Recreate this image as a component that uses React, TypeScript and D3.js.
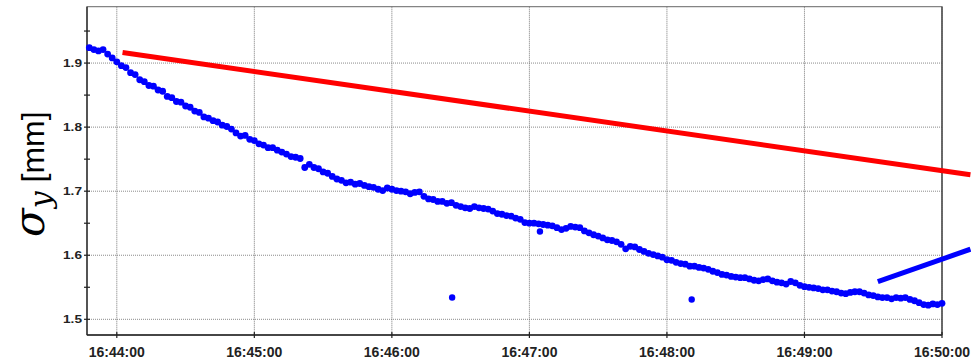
import React from "react";
import * as d3 from "d3";

const W = 971;
const H = 363;

// Beam size samples, one every two seconds starting at sampleStart.
const sampleStart = "16:43:48.000";
const sampleStepSeconds = 2;
const sigmaY = [
  1.924, 1.921, 1.919, 1.921, 1.914, 1.908,
  1.902, 1.896, 1.893, 1.885, 1.882, 1.874, 1.871, 1.865, 1.864, 1.858,
  1.856, 1.848, 1.846, 1.84, 1.839, 1.833, 1.831, 1.825, 1.823, 1.816,
  1.814, 1.81, 1.808, 1.803, 1.801, 1.797, 1.791, 1.786, 1.787, 1.781,
  1.779, 1.774, 1.772, 1.768, 1.768, 1.764, 1.761, 1.758, 1.754, 1.753,
  1.751, 1.737, 1.742, 1.737, 1.735, 1.73, 1.728, 1.723, 1.719, 1.717,
  1.713, 1.714, 1.711, 1.712, 1.709, 1.707, 1.706, 1.703, 1.701, 1.705,
  1.703, 1.701, 1.7, 1.699, 1.696, 1.698, 1.699, 1.692, 1.688, 1.687,
  1.684, 1.684, 1.681, 1.682, 1.678, 1.676, 1.674, 1.673, 1.676, 1.674,
  1.673, 1.672, 1.669, 1.665, 1.664, 1.662, 1.661, 1.658, 1.656, 1.651,
  1.65, 1.65, 1.649, 1.648, 1.647, 1.646, 1.643, 1.64, 1.642, 1.645,
  1.644, 1.643, 1.638, 1.635, 1.632, 1.63, 1.627, 1.624, 1.623, 1.621,
  1.617, 1.61, 1.614, 1.613, 1.609, 1.606, 1.603, 1.601, 1.599, 1.597,
  1.593, 1.592, 1.589, 1.587, 1.586, 1.583, 1.583, 1.581, 1.58, 1.578,
  1.575, 1.573, 1.57, 1.569, 1.567, 1.566, 1.565, 1.565, 1.563, 1.561,
  1.56, 1.562, 1.563, 1.56, 1.558, 1.557, 1.555, 1.559, 1.557, 1.553,
  1.551, 1.55, 1.549, 1.548, 1.546, 1.546, 1.544, 1.543, 1.541, 1.54,
  1.542, 1.543, 1.543, 1.541, 1.538, 1.537, 1.535, 1.534, 1.534, 1.532,
  1.534, 1.533, 1.534, 1.531, 1.529, 1.526, 1.523, 1.522, 1.524, 1.523,
  1.525,
];

// Isolated readings away from the main trend.
const strayTimes = ["16:46:26.300", "16:47:04.600", "16:48:10.800"];
const strayValues = [1.534, 1.637, 1.531];

// Hand-drawn guide lines (time, value) end points.
const redGuideTimes = ["16:44:02.500", "16:50:12.400"];
const redGuideValues = [1.9165, 1.7257];
const blueGuideTimes = ["16:49:32.000", "16:50:12.400"];
const blueGuideValues = [1.5588, 1.6094];

const xDomain = ["16:43:47.000", "16:50:00.000"];
const yDomain = [1.4755, 1.988];
const xTickTimes = ["16:44:00", "16:45:00", "16:46:00", "16:47:00", "16:48:00", "16:49:00", "16:50:00"];
const yTicks = [1.5, 1.6, 1.7, 1.8, 1.9];
const yMinorTicks = [1.55, 1.65, 1.75, 1.85, 1.95];

const parseMs = d3.utcParse("%H:%M:%S.%L");
const parseS = d3.utcParse("%H:%M:%S");
const fmt = d3.utcFormat("%H:%M:%S");

const plot = { left: 87, right: 942, top: 6.7, bottom: 335 };

export default function App() {
  const x = d3
    .scaleUtc()
    .domain(xDomain.map((s) => parseMs(s) as Date))
    .range([plot.left, plot.right]);
  const y = d3.scaleLinear().domain(yDomain).range([plot.bottom, plot.top]);

  const t0 = parseMs(sampleStart) as Date;
  const samples = sigmaY.map((v, i) => ({
    t: d3.utcSecond.offset(t0, i * sampleStepSeconds),
    v,
  }));
  const strays = strayTimes.map((s, i) => ({ t: parseMs(s) as Date, v: strayValues[i] }));
  const xTicks = xTickTimes.map((s) => parseS(s) as Date);

  const guide = d3
    .line<[string, number]>()
    .x((d) => x(parseMs(d[0]) as Date))
    .y((d) => y(d[1]));
  const redPts = redGuideTimes.map((s, i) => [s, redGuideValues[i]] as [string, number]);
  const bluePts = blueGuideTimes.map((s, i) => [s, blueGuideValues[i]] as [string, number]);

  const tickFont = "'Liberation Sans', Arial, sans-serif";

  return (
    <svg
      width={W}
      height={H}
      style={{ position: "absolute", left: 0, top: 0, background: "#fff" }}
    >
      <rect x={0} y={0} width={W} height={H} fill="#fff" />

      {/* grid */}
      {yTicks.map((v) => (
        <line
          key={"gy" + v}
          x1={plot.left}
          x2={plot.right}
          y1={y(v)}
          y2={y(v)}
          stroke="#8a8a8a"
          strokeWidth={1}
          strokeDasharray="1,1"
        />
      ))}
      {xTicks.map((t, i) => (
        <line
          key={"gx" + i}
          x1={x(t)}
          x2={x(t)}
          y1={plot.top}
          y2={plot.bottom}
          stroke="#777"
          strokeWidth={1}
          strokeDasharray="1,1"
        />
      ))}

      {/* frame */}
      <rect
        x={plot.left}
        y={plot.top}
        width={plot.right - plot.left}
        height={plot.bottom - plot.top}
        fill="none"
        stroke="#666"
        strokeWidth={1}
      />
      <line x1={plot.left} x2={plot.left} y1={plot.top} y2={plot.bottom} stroke="#222" strokeWidth={1.3} />
      <line x1={plot.left} x2={plot.right} y1={plot.bottom} y2={plot.bottom} stroke="#222" strokeWidth={1.3} />
      <line x1={plot.right} x2={plot.right} y1={plot.top} y2={plot.bottom} stroke="#444" strokeWidth={1.2} />

      {/* y ticks */}
      {yTicks.concat(yMinorTicks).map((v) => (
        <line key={"ty" + v} x1={plot.left - 3} x2={plot.left + 3} y1={y(v)} y2={y(v)} stroke="#222" strokeWidth={1.2} />
      ))}
      {yTicks.map((v) => (
        <text
          key={"ly" + v}
          x={82}
          y={y(v) + 4}
          textAnchor="end"
          fontFamily={tickFont}
          fontWeight="bold"
          fontSize={11.5}
          fill="#222"
          textLength={19}
          lengthAdjust="spacingAndGlyphs"
        >
          {v.toFixed(1)}
        </text>
      ))}

      {/* x ticks */}
      {xTicks.map((t, i) => (
        <g key={"tx" + i}>
          <line x1={x(t)} x2={x(t)} y1={plot.bottom - 3} y2={plot.bottom + 3} stroke="#222" strokeWidth={1.2} />
          <text
            x={x(t)}
            y={356.5}
            textAnchor="middle"
            fontFamily={tickFont}
            fontWeight="bold"
            fontSize={14}
            fill="#222"
          >
            {fmt(t)}
          </text>
        </g>
      ))}

      {/* samples */}
      {samples.map((d, i) => (
        <circle key={"p" + i} cx={x(d.t)} cy={y(d.v)} r={3.4} fill="#0000ff" />
      ))}
      {strays.map((d, i) => (
        <circle key={"s" + i} cx={x(d.t)} cy={y(d.v)} r={3.2} fill="#0000ff" />
      ))}

      {/* guides */}
      <path d={guide(redPts) || ""} stroke="#ff0000" strokeWidth={5} fill="none" />
      <path d={guide(bluePts) || ""} stroke="#0000ff" strokeWidth={5} fill="none" />

      {/* axis title */}
      <text transform="translate(44,237) rotate(-90)" fill="#000">
        <tspan fontFamily="'DejaVu Serif', serif" fontStyle="italic" fontSize={42}>
          σ
        </tspan>
        <tspan fontFamily="'DejaVu Serif', serif" fontStyle="italic" fontSize={30} dy={7}>
          y
        </tspan>
        <tspan fontFamily="'Liberation Sans', Arial, sans-serif" fontSize={32} dy={-7}>
          {" [mm]"}
        </tspan>
      </text>
    </svg>
  );
}
